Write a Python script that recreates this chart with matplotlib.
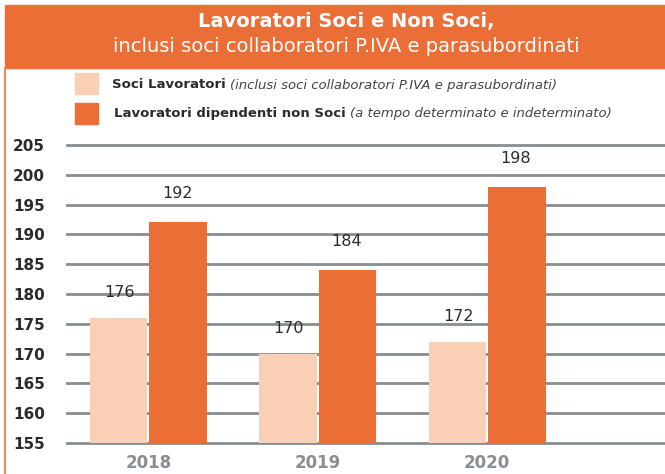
import matplotlib.pyplot as plt
from matplotlib.patches import Rectangle
import numpy as np

years = ['2018', '2019', '2020']
soci = [176, 170, 172]
non_soci = [192, 184, 198]
yticks = [155, 160, 165, 170, 175, 180, 185, 190, 195, 200, 205]

light = '#f9cfb5'
dark = '#ec6e37'
grid_c = '#8a8d91'
txt = '#2b2b2b'

plt.rcParams['font.family'] = ['DejaVu Sans']

fig = plt.figure(figsize=(6.65, 4.74), dpi=100)

# header band and left border
fig.patches.append(Rectangle((5/665, 1-68/474), 1, 63/474, transform=fig.transFigure,
                             color=dark, zorder=0))
fig.lines.append(plt.Line2D([5/665, 5/665], [0, 1-68/474], transform=fig.transFigure,
                            color='#f08a5a', lw=1.5))
fig.text(346/665, 1-22/474, 'Lavoratori Soci e Non Soci,', color='white', fontsize=14,
         fontweight='bold', ha='center', va='center')
fig.text(346/665, 1-46/474, 'inclusi soci collaboratori P.IVA e parasubordinati', color='white',
         fontsize=14, ha='center', va='center')

# legend
fig.patches.append(Rectangle((75/665, 1-94/474), 23/665, 21/474, transform=fig.transFigure, color=light))
fig.patches.append(Rectangle((75/665, 1-124/474), 23/665, 21/474, transform=fig.transFigure, color=dark))
legend_rows = [
    (112, 85, 'Soci Lavoratori', '(inclusi soci collaboratori P.IVA e parasubordinati)'),
    (114, 114, 'Lavoratori dipendenti non Soci', '(a tempo determinato e indeterminato)'),
]
renderer = fig.canvas.get_renderer()
for px, py, bold, ital in legend_rows:
    t = fig.text(px/665, 1-py/474, bold, fontsize=9.5, fontweight='bold', color=txt, va='center')
    bb = t.get_window_extent(renderer)
    fig.text((bb.x1 + 4)/665, 1-py/474, ital, fontsize=9.5, style='italic', color='#444444', va='center')

ax = fig.add_axes([67/665, 31/474, 1-67/665, 298/474])
x = np.arange(len(years))
w = 0.34
ax.bar(x - w/2 - 0.005, np.array(soci) - 155, w, bottom=155, color=light, zorder=2)
ax.bar(x + w/2 + 0.005, np.array(non_soci) - 155, w, bottom=155, color=dark, zorder=2)
for i in range(len(years)):
    ax.text(x[i] - w/2, soci[i] + 4.2, str(soci[i]), ha='center', va='center', fontsize=11.5, color=txt)
    ax.text(x[i] + w/2, non_soci[i] + 4.8, str(non_soci[i]), ha='center', va='center', fontsize=11.5, color=txt)

for v in yticks:
    ax.axhline(v, color=grid_c, lw=2, zorder=1, clip_on=False)

ax.set_xlim(-0.48, 3.05)
ax.set_ylim(155, 205)
ax.set_yticks(yticks)
ax.set_yticklabels([str(v) for v in yticks], fontsize=11, fontweight='semibold', color=txt)
ax.tick_params(axis='y', length=0, pad=16)
ax.set_xticks([])
for i, yr in enumerate(years):
    ax.text(x[i], 151.6, yr, ha='center', va='center', fontsize=12, fontweight='bold', color='#8a8d91')
for s in ax.spines.values():
    s.set_visible(False)

fig.savefig('out.png', dpi=100)
